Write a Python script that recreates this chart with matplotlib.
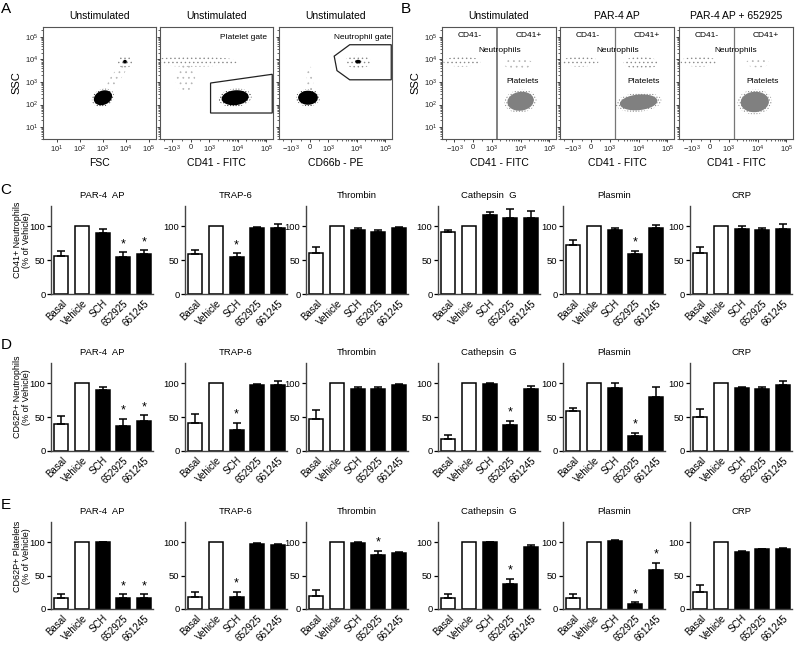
import numpy as np
import matplotlib
matplotlib.use('Agg')
import matplotlib.pyplot as plt
from matplotlib.ticker import FixedLocator, NullFormatter

plt.rcParams['font.family'] = ['Liberation Sans', 'DejaVu Sans']
plt.rcParams['mathtext.default'] = 'regular'
plt.rcParams['hatch.linewidth'] = 0.5

# ---- bar chart data (% of vehicle) ----
groups = ['Basal', 'Vehicle', 'SCH', '652925', '661245']
agonists = ['PAR-4  AP', 'TRAP-6', 'Thrombin', 'Cathepsin  G', 'Plasmin', 'CRP']

cd41_neut_mean = [[56, 100, 90, 55, 59], [59, 100, 55, 97, 97], [60, 100, 94, 91, 98],
                  [91, 100, 116, 113, 113], [72, 100, 94, 59, 97], [61, 100, 96, 94, 96]]
cd41_neut_err = [[8, 0, 6, 7, 6], [6, 0, 5, 2, 6], [10, 0, 3, 3, 1],
                 [4, 0, 5, 12, 9], [8, 0, 4, 5, 5], [8, 0, 4, 4, 7]]
cd41_neut_sig = [[3, 4], [2], [], [], [3], []]

cd62p_neut_mean = [[40, 100, 90, 37, 44], [42, 100, 31, 98, 97], [48, 100, 92, 92, 97],
                   [17, 100, 99, 38, 92], [59, 100, 93, 22, 80], [50, 100, 93, 91, 97]]
cd62p_neut_err = [[12, 0, 5, 11, 9], [12, 0, 11, 1, 7], [12, 0, 3, 3, 2],
                  [6, 0, 1, 7, 4], [5, 0, 7, 5, 15], [12, 0, 2, 4, 6]]
cd62p_neut_sig = [[3, 4], [2], [], [3], [3], []]

cd62p_plt_mean = [[16, 100, 100, 16, 16], [18, 100, 18, 97, 95], [20, 100, 99, 80, 83],
                  [17, 100, 100, 38, 92], [17, 100, 102, 7, 58], [26, 100, 85, 89, 89]]
cd62p_plt_err = [[7, 0, 0.5, 6, 6], [8, 0, 8, 1, 2], [8, 0, 1, 7, 2],
                 [6, 0, 0.5, 7, 4], [5, 0, 1, 3, 11], [10, 0, 1, 1, 2]]
cd62p_plt_sig = [[3, 4], [2], [3], [3], [3, 4], []]

# ---- flow cytometry clouds: (x centre, y centre, x radius dec, y radius dec, angle, style) ----
a_titles = ['Unstimulated', 'Unstimulated', 'Unstimulated']
a_xlabels = ['FSC', 'CD41 - FITC', 'CD66b - PE']
a_clouds = [
    [(4000, 1800, 0.65, 0.2, 52, 'light'), (9000, 8000, 0.32, 0.28, 0, 'sparse'),
     (9000, 8000, 0.1, 0.1, 0, 'dense'), (1000, 200, 0.5, 0.38, 25, 'dense')],
    [(100, 8000, 1.6, 0.22, 0, 'sparse'), (-300, 1500, 0.35, 0.6, 0, 'light'),
     (8000, 200, 0.58, 0.4, 10, 'dense')],
    [(0, 1200, 0.12, 0.6, 0, 'light'), (11000, 8000, 0.45, 0.3, 0, 'sparse'),
     (11000, 8000, 0.12, 0.1, 0, 'dense'), (-100, 200, 0.42, 0.38, 0, 'dense')],
]
a_gate_x = [None, [1100, 160000, 160000, 1100], [1600, 5600, 160000, 160000, 5600, 2000]]
a_gate_y = [None, [900, 2200, 42, 42], [14000, 45000, 45000, 1250, 1250, 3200]]
a_gate_text = [None, 'Platelet gate', 'Neutrophil gate']

b_titles = ['Unstimulated', 'PAR-4 AP', 'PAR-4 AP + 652925']
b_clouds = [
    [(-600, 8000, 0.65, 0.22, 0, 'sparse'), (8000, 6500, 0.5, 0.25, 0, 'light'),
     (10000, 140, 0.57, 0.5, 25, 'grey')],
    [(-600, 8000, 0.65, 0.22, 0, 'sparse'), (12000, 7000, 0.6, 0.28, 0, 'sparse'),
     (10000, 125, 0.8, 0.42, 8, 'grey')],
    [(-600, 8000, 0.65, 0.22, 0, 'sparse'), (10000, 7000, 0.4, 0.2, 0, 'light'),
     (8000, 130, 0.6, 0.55, 15, 'grey')],
]
b_text_x = [(0.51, 0.71), (0.51, 0.73), (0.50, 0.73)]
cd41_cut = 1500

fig = plt.figure(figsize=(8, 6.5), dpi=100)


def px_axes(left, top, right, bottom):
    return fig.add_axes([left / 800, 1 - bottom / 650, (right - left) / 800, (bottom - top) / 650])


def outline(ax, cx, cy, rx, ry, angle, k=1.0):
    # ellipse built in the scale's transformed space so it follows log / symlog axes
    tx, ty = ax.xaxis.get_transform(), ax.yaxis.get_transform()
    decx = tx.transform(np.array([1e5]))[0] - tx.transform(np.array([1e4]))[0]
    decy = ty.transform(np.array([1e5]))[0] - ty.transform(np.array([1e4]))[0]
    t = np.linspace(0, 2 * np.pi, 80)
    a = np.deg2rad(angle)
    u = k * (rx * np.cos(t) * np.cos(a) - ry * np.sin(t) * np.sin(a))
    v = k * (rx * np.cos(t) * np.sin(a) + ry * np.sin(t) * np.cos(a))
    x = tx.inverted().transform(tx.transform(np.array([cx]))[0] + u * decx)
    y = ty.inverted().transform(ty.transform(np.array([cy]))[0] + v * decy)
    return x, y


def cloud(ax, cx, cy, rx, ry, angle, style):
    x, y = outline(ax, cx, cy, rx, ry, angle)
    if style == 'dense':
        ax.fill(x, y, facecolor='none', edgecolor='#444444', hatch='......', lw=0)
        ax.fill(*outline(ax, cx, cy, rx, ry, angle, 0.82), color='black', lw=0)
    elif style == 'grey':
        ax.fill(x, y, facecolor='none', edgecolor='#8c8c8c', hatch='......', lw=0)
        ax.fill(*outline(ax, cx, cy, rx, ry, angle, 0.82), color='#808080', lw=0)
    elif style == 'sparse':
        ax.fill(x, y, facecolor='none', edgecolor='#8a8a8a', hatch='....', lw=0)
    else:
        ax.fill(x, y, facecolor='none', edgecolor='#b5b5b5', hatch='...', lw=0)


def flow_axes(ax, xlog):
    if xlog:
        ax.set_xscale('log')
        ax.set_xlim(10 ** 0.4, 10 ** 5.3)
        ax.xaxis.set_major_locator(FixedLocator([10, 100, 1e3, 1e4, 1e5]))
        ax.set_xticklabels(['$10^1$', '$10^2$', '$10^3$', '$10^4$', '$10^5$'])
    else:
        ax.set_xscale('symlog', linthresh=1000, linscale=0.585)
        ax.set_xlim(-2700, 1.7e5)
        ax.xaxis.set_major_locator(FixedLocator([-1000, 0, 1000, 1e4, 1e5]))
        ax.set_xticklabels(['$-10^3$', '0', '$10^3$', '$10^4$', '$10^5$'])
        minors = [-2000, -500, 500] + [m * d for d in (1e3, 1e4) for m in range(2, 10)]
        ax.xaxis.set_minor_locator(FixedLocator(minors))
        ax.xaxis.set_minor_formatter(NullFormatter())
    ax.set_yscale('log')
    ax.set_ylim(10 ** 0.47, 10 ** 5.44)
    ax.yaxis.set_major_locator(FixedLocator([10, 100, 1e3, 1e4, 1e5]))
    ax.set_yticklabels(['$10^1$', '$10^2$', '$10^3$', '$10^4$', '$10^5$'])
    ax.tick_params(which='major', labelsize=5.5, length=2.5, width=0.6, pad=1, colors='#222222')
    ax.tick_params(which='minor', length=1.3, width=0.5, colors='#222222')
    for s in ax.spines.values():
        s.set_linewidth(0.8)
        s.set_color('#555555')


# ---- panel A ----
a_left = [43, 160, 279]
for i in range(3):
    ax = px_axes(a_left[i], 27, a_left[i] + 113, 139)
    flow_axes(ax, xlog=(i == 0))
    for c in a_clouds[i]:
        cloud(ax, *c)
    if a_gate_x[i] is not None:
        ax.fill(a_gate_x[i], a_gate_y[i], facecolor='none', edgecolor='#222222', lw=0.9)
        ax.text(0.74, 0.91, a_gate_text[i], transform=ax.transAxes, ha='center', va='center', fontsize=6)
    ax.set_title(a_titles[i], fontsize=7.5, pad=6)
    ax.set_xlabel(a_xlabels[i], fontsize=7.5, labelpad=2)
    if i == 0:
        ax.set_ylabel('SSC', fontsize=8, labelpad=2)
    else:
        ax.set_yticklabels([])

# ---- panel B ----
b_left = [442, 560, 679]
for i in range(3):
    ax = px_axes(b_left[i], 27, b_left[i] + 114, 139)
    flow_axes(ax, xlog=False)
    for c in b_clouds[i]:
        cloud(ax, *c)
    ax.axvline(cd41_cut, color='#777777', lw=0.9 if i else 1.3)
    ax.text(0.24, 0.955, 'CD41-', transform=ax.transAxes, ha='center', va='top', fontsize=6)
    ax.text(0.76, 0.955, 'CD41+', transform=ax.transAxes, ha='center', va='top', fontsize=6)
    ax.text(b_text_x[i][0], 0.79, 'Neutrophils', transform=ax.transAxes, ha='center', va='center', fontsize=6)
    ax.text(b_text_x[i][1], 0.51, 'Platelets', transform=ax.transAxes, ha='center', va='center', fontsize=6)
    ax.set_title(b_titles[i], fontsize=7.5, pad=6)
    ax.set_xlabel('CD41 - FITC', fontsize=7.5, labelpad=2)
    if i == 0:
        ax.set_ylabel('SSC', fontsize=8, labelpad=2)
    else:
        ax.set_yticklabels([])

# ---- panels C, D, E ----
col_left = [51, 185, 306, 438, 563, 690]
rows = [
    (206, 294, cd41_neut_mean, cd41_neut_err, cd41_neut_sig, 'CD41+ Neutrophils\n(% of Vehicle)', 240),
    (363, 451, cd62p_neut_mean, cd62p_neut_err, cd62p_neut_sig, 'CD62P+ Neutrophils\n(% of Vehicle)', 397),
    (522, 609, cd62p_plt_mean, cd62p_plt_err, cd62p_plt_sig, 'CD62P+ Platelets\n(% of Vehicle)', 556),
]
bar_colors = ['white', 'white', 'black', 'black', 'black']
x = np.arange(len(groups))
for top, bottom, means, errs, sigs, ylab, ylab_y in rows:
    for j in range(6):
        ax = px_axes(col_left[j], top, col_left[j] + 102, bottom)
        m = np.array(means[j], dtype=float)
        e = np.array(errs[j], dtype=float)
        ax.bar(x, m, width=0.68, color=bar_colors, edgecolor='black', linewidth=1.1, zorder=2)
        has = e > 0
        ax.errorbar(x[has], m[has], yerr=[np.zeros(has.sum()), e[has]], fmt='none',
                    ecolor='black', elinewidth=1.1, capsize=3, capthick=1.1, zorder=3)
        for k in sigs[j]:
            ax.text(k, m[k] + e[k] + 3, '*', ha='center', va='bottom', fontsize=9)
        ax.set_xlim(-0.5, 4.45)
        ax.set_ylim(0, 130)
        ax.set_yticks([0, 50, 100])
        ax.set_xticks(x)
        ax.set_xticklabels(groups, rotation=45, ha='right', rotation_mode='anchor', fontsize=7)
        ax.tick_params(axis='y', labelsize=6.8, length=3, width=0.9, pad=1)
        ax.tick_params(axis='x', length=0, pad=3)
        ax.spines['top'].set_visible(False)
        ax.spines['right'].set_visible(False)
        for s in ('left', 'bottom'):
            ax.spines[s].set_linewidth(1.0)
            ax.spines[s].set_color('#444444')
        ax.set_title(agonists[j], fontsize=6.8, pad=6)
    fig.text(22 / 800, 1 - ylab_y / 650, ylab, rotation=90, ha='center', va='center',
             fontsize=6.5, linespacing=1.05)

for letter, px, py in [('A', 6, 9), ('B', 406, 9), ('C', 6, 190), ('D', 6, 345), ('E', 6, 505)]:
    fig.text(px / 800, 1 - py / 650, letter, fontsize=11, ha='center', va='center')

fig.savefig('out.png', dpi=100)
